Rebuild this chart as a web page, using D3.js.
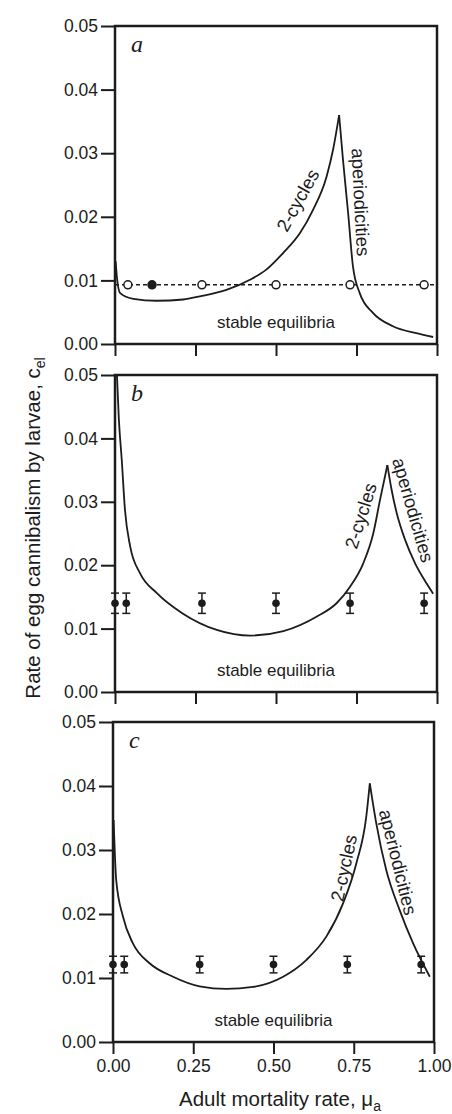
<!DOCTYPE html>
<html>
<head>
<meta charset="utf-8">
<script src="https://cdn.jsdelivr.net/npm/d3@7"></script>
<style>
    body { margin: 0; background: #fff; }
    svg { display: block; }
    text { font-family: Arial, "Liberation Sans", Helvetica, sans-serif; fill: #1c1c1c; }
    .letter { font-family: "Liberation Serif", "Times New Roman", serif; font-style: italic; }
</style>
</head>
<body>
<div id="chart"></div>
<script>
let width = 452;
let height = 1114;
let ink = "#1c1c1c";

let xTicks = [0, 0.25, 0.5, 0.75, 1];
let yTicks = [0, 0.01, 0.02, 0.03, 0.04, 0.05];
let panelLetters = ["a", "b", "c"];

// panel a: model boundary, split at the cusp
let aCyclesX = [0.002, 0.006, 0.016, 0.057, 0.129, 0.212, 0.264, 0.346, 0.419, 0.47, 0.522, 0.574, 0.615, 0.657, 0.677, 0.696];
let aCyclesY = [0.013, 0.0105, 0.008, 0.0071, 0.0068, 0.007, 0.0075, 0.0085, 0.0101, 0.0117, 0.0143, 0.0174, 0.0211, 0.0263, 0.0305, 0.036];
let aAperX = [0.696, 0.708, 0.724, 0.739, 0.76, 0.801, 0.863, 0.936, 0.988];
let aAperY = [0.036, 0.029, 0.0206, 0.0122, 0.008, 0.0049, 0.0028, 0.0017, 0.0011];
let aObsX = [0.04, 0.115, 0.27, 0.5, 0.73, 0.96];
let aObsY = [0.0093, 0.0093, 0.0093, 0.0093, 0.0093, 0.0093];
let aObsFilled = [false, true, false, false, false, false];

// panel b
let bCyclesX = [0.006, 0.012, 0.021, 0.031, 0.047, 0.078, 0.13, 0.21, 0.316, 0.42, 0.523, 0.627, 0.688, 0.73, 0.771, 0.802, 0.823, 0.846];
let bCyclesY = [0.05, 0.043, 0.0366, 0.0287, 0.023, 0.0187, 0.0156, 0.0124, 0.0098, 0.0089, 0.0096, 0.0119, 0.014, 0.0166, 0.0203, 0.025, 0.0303, 0.0358];
let bAperX = [0.846, 0.859, 0.875, 0.901, 0.932, 0.968, 0.988];
let bAperY = [0.0358, 0.0319, 0.0282, 0.024, 0.0203, 0.0171, 0.0155];
let bObsX = [0, 0.035, 0.27, 0.5, 0.73, 0.96];
let bObsY = [0.014, 0.014, 0.014, 0.014, 0.014, 0.014];
let bObsErr = [0.0016, 0.0016, 0.0016, 0.0016, 0.0016, 0.0016];

// panel c
let cCyclesX = [0.002, 0.01, 0.031, 0.062, 0.114, 0.187, 0.27, 0.353, 0.436, 0.53, 0.602, 0.665, 0.717, 0.758, 0.789, 0.8];
let cCyclesY = [0.0347, 0.0253, 0.0196, 0.0154, 0.0123, 0.0102, 0.0087, 0.0083, 0.0086, 0.0102, 0.0128, 0.0165, 0.0217, 0.0279, 0.0352, 0.0404];
let cAperX = [0.8, 0.82, 0.851, 0.893, 0.935, 0.987];
let cAperY = [0.0404, 0.0342, 0.0269, 0.0206, 0.0154, 0.0102];
let cObsX = [0, 0.035, 0.27, 0.5, 0.73, 0.96];
let cObsY = [0.0121, 0.0121, 0.0121, 0.0121, 0.0121, 0.0121];
let cObsErr = [0.0013, 0.0013, 0.0013, 0.0013, 0.0013, 0.0013];

let panels = [
    { top: 26, bottom: 344, left: 115, right: 437,
      cycles: [aCyclesX, aCyclesY], aper: [aAperX, aAperY],
      obs: { x: aObsX, y: aObsY, filled: aObsFilled },
      cycLabel: { x: 0.568, y: 0.0226, angle: -61 }, aperLabel: { x: 0.763, y: 0.0223, angle: 87 } },
    { top: 375, bottom: 692, left: 115, right: 437,
      cycles: [bCyclesX, bCyclesY], aper: [bAperX, bAperY],
      obs: { x: bObsX, y: bObsY, err: bObsErr },
      cycLabel: { x: 0.763, y: 0.0278, angle: -72.5 }, aperLabel: { x: 0.926, y: 0.0287, angle: 74 } },
    { top: 722, bottom: 1042, left: 113, right: 434,
      cycles: [cCyclesX, cCyclesY], aper: [cAperX, cAperY],
      obs: { x: cObsX, y: cObsY, err: cObsErr },
      cycLabel: { x: 0.719, y: 0.0272, angle: -78 }, aperLabel: { x: 0.888, y: 0.0281, angle: 76 } }
];

const svg = d3.select("#chart").append("svg")
    .attr("width", width)
    .attr("height", height)
    .attr("viewBox", [0, 0, width, height]);

panels.forEach((p, i) => drawPanel(p, i));

function drawPanel(p, i) {
    let x = d3.scaleLinear().domain([0, 1]).range([p.left, p.right]);
    let y = d3.scaleLinear().domain([0, 0.05]).range([p.bottom, p.top]);
    let g = svg.append("g");

    g.append("clipPath").attr("id", "clip" + i)
        .append("rect")
        .attr("x", p.left).attr("y", p.top)
        .attr("width", p.right - p.left).attr("height", p.bottom - p.top);

    // y axis
    g.append("g")
        .attr("transform", `translate(${p.left},0)`)
        .call(d3.axisLeft(y).tickValues(yTicks).tickFormat(d3.format(".2f")).tickSize(14).tickSizeOuter(0).tickPadding(3))
        .call(a => a.select(".domain").remove())
        .call(a => a.selectAll("line").attr("stroke", ink).attr("stroke-width", 2))
        .call(a => a.selectAll("text").attr("font-size", 17.5).attr("font-family", null).attr("fill", ink));

    // x axis
    let xAxis = d3.axisBottom(x).tickValues(xTicks).tickFormat(d3.format(".2f")).tickSize(12).tickSizeOuter(0).tickPadding(6);
    g.append("g")
        .attr("transform", `translate(0,${p.bottom})`)
        .call(xAxis)
        .call(a => a.select(".domain").remove())
        .call(a => a.selectAll("line").attr("stroke", ink).attr("stroke-width", 2))
        .call(a => a.selectAll("text").attr("font-size", 17.5).attr("font-family", null).attr("fill", ink)
            .style("display", i === 2 ? null : "none"));

    // frame
    g.append("rect")
        .attr("x", p.left).attr("y", p.top)
        .attr("width", p.right - p.left).attr("height", p.bottom - p.top)
        .attr("fill", "none").attr("stroke", ink).attr("stroke-width", 2.5);

    let line = d3.line()
        .x(d => x(d[0]))
        .y(d => y(d[1]))
        .curve(d3.curveMonotoneX);

    let curves = g.append("g").attr("clip-path", `url(#clip${i})`);
    [p.cycles, p.aper].forEach(c => {
        curves.append("path")
            .datum(d3.zip(c[0], c[1]))
            .attr("d", line)
            .attr("fill", "none")
            .attr("stroke", ink)
            .attr("stroke-width", 1.8);
    });

    let obs = d3.zip(p.obs.x, p.obs.y);
    if (p.obs.filled) {
        curves.append("line")
            .attr("x1", x(0)).attr("x2", x(1))
            .attr("y1", y(p.obs.y[0])).attr("y2", y(p.obs.y[0]))
            .attr("stroke", ink).attr("stroke-width", 1.5)
            .attr("stroke-dasharray", "4,3");
        g.selectAll(".pt")
            .data(obs)
            .join("circle")
            .attr("cx", d => x(d[0]))
            .attr("cy", d => y(d[1]))
            .attr("r", 4)
            .attr("fill", (d, k) => p.obs.filled[k] ? ink : "#fff")
            .attr("stroke", ink)
            .attr("stroke-width", 1.5);
    } else {
        let err = g.selectAll(".err")
            .data(obs.map((d, k) => [d[0], d[1], p.obs.err[k]]))
            .join("g");
        err.append("line")
            .attr("x1", d => x(d[0])).attr("x2", d => x(d[0]))
            .attr("y1", d => y(d[1] - d[2])).attr("y2", d => y(d[1] + d[2]))
            .attr("stroke", ink).attr("stroke-width", 1.5);
        [-1, 1].forEach(s => {
            err.append("line")
                .attr("x1", d => x(d[0]) - 4).attr("x2", d => x(d[0]) + 4)
                .attr("y1", d => y(d[1] + s * d[2])).attr("y2", d => y(d[1] + s * d[2]))
                .attr("stroke", ink).attr("stroke-width", 1.5);
        });
        err.append("circle")
            .attr("cx", d => x(d[0]))
            .attr("cy", d => y(d[1]))
            .attr("r", 3.8)
            .attr("fill", ink);
    }

    // annotations
    g.append("text")
        .attr("class", "letter")
        .attr("x", p.left + 16)
        .attr("y", p.top + 26)
        .attr("font-size", 24)
        .text(panelLetters[i]);

    g.append("text")
        .attr("x", x(0.5))
        .attr("y", y(0.0025))
        .attr("text-anchor", "middle")
        .attr("font-size", 17)
        .text("stable equilibria");

    [[p.cycLabel, "2-cycles"], [p.aperLabel, "aperiodicities"]].forEach(([l, t]) => {
        g.append("text")
            .attr("transform", `translate(${x(l.x)},${y(l.y)}) rotate(${l.angle})`)
            .attr("text-anchor", "middle")
            .attr("dy", "0.35em")
            .attr("font-size", 18.5)
            .text(t);
    });
}

// axis titles
let yTitle = svg.append("text")
    .attr("transform", "translate(40,528) rotate(-90)")
    .attr("text-anchor", "middle")
    .attr("font-size", 20.5)
    .text("Rate of egg cannibalism by larvae, c");
yTitle.append("tspan").attr("font-size", 14).attr("dy", 5).text("el");

let xTitle = svg.append("text")
    .attr("x", 280)
    .attr("y", 1106)
    .attr("text-anchor", "middle")
    .attr("font-size", 20.5)
    .text("Adult mortality rate, \u03bc");
xTitle.append("tspan").attr("font-size", 14).attr("dy", 5).text("a");
</script>
</body>
</html>
